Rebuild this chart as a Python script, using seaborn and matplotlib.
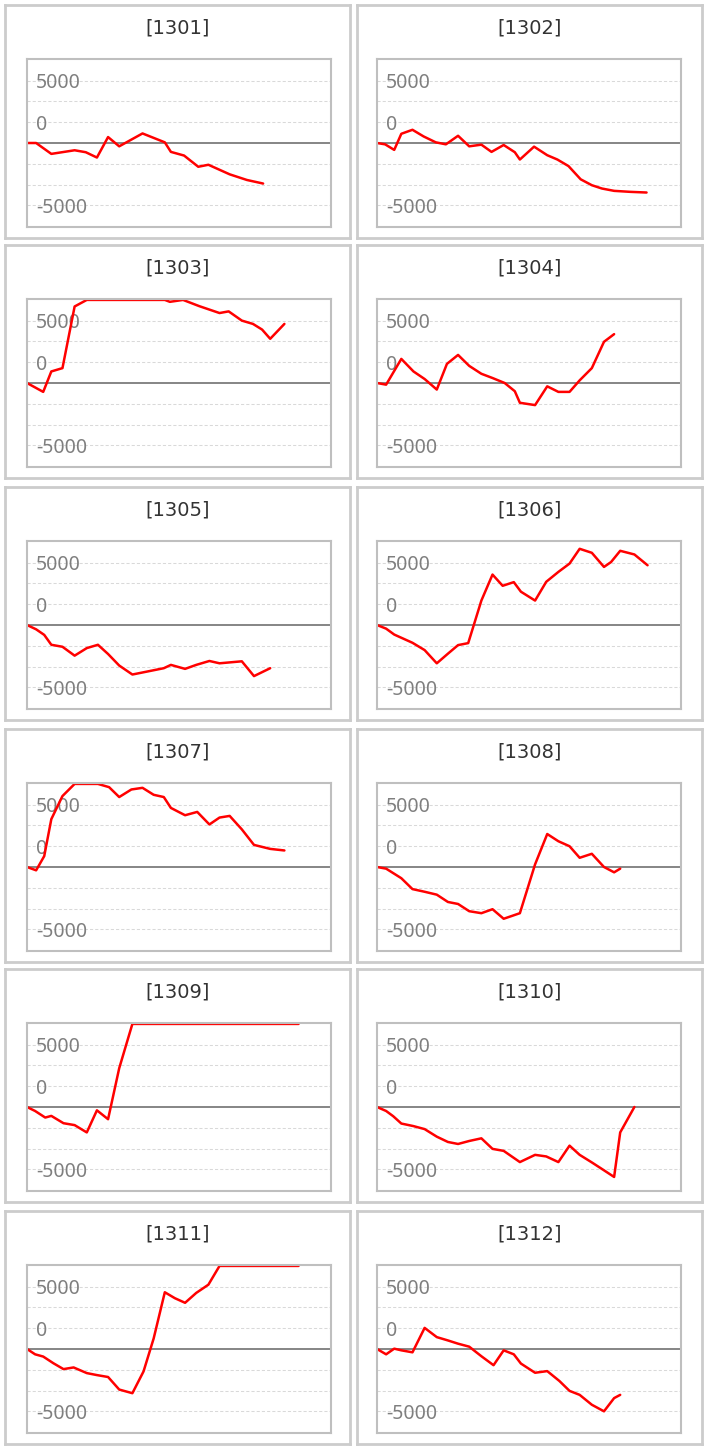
import matplotlib
matplotlib.use("Agg")
import matplotlib.pyplot as plt
import seaborn as sns

# --- data (x = trading-day index, y = cumulative P&L, clipped at +-10000) ---
codes = ["1301", "1302", "1303", "1304", "1305", "1306",
         "1307", "1308", "1309", "1310", "1311", "1312"]

t_1301 = [0, 0.9, 2.4, 4.7, 5.8, 6.9, 8.0, 9.1, 11.4, 13.6, 14.2, 15.5, 16.9, 17.9, 20.0, 21.7, 23.3]
v_1301 = [0, 0, -1310, -875, -1110, -1750, 715, -400, 1150, 80, -1070, -1510, -2860, -2620, -3770, -4450, -4880]

t_1302 = [0, 0.8, 1.7, 2.4, 3.5, 4.6, 5.8, 6.8, 8.0, 9.1, 10.3, 11.3, 12.5, 13.6, 14.1, 15.5,
          16.8, 17.8, 18.9, 20.1, 21.2, 22.2, 23.4, 25.0, 26.6]
v_1302 = [0, -160, -830, 1110, 1590, 790, 80, -160, 870, -400, -200, -1070, -240, -1110, -1990, -440,
          -1470, -1990, -2780, -4370, -5080, -5480, -5760, -5880, -5960]

t_1303 = [0, 1.6, 2.4, 3.5, 4.7, 5.9, 7.0, 8.1, 9.1, 10.2, 11.3, 12.4, 13.6, 14.1, 15.4, 17.0,
          19.0, 19.9, 21.2, 22.3, 23.2, 24.0, 25.4]
v_1303 = [0, -1070, 1390, 1790, 9210, 10000, 10000, 10000, 10000, 10000, 10000, 10000, 10000, 9770, 10000, 9250,
          8420, 8620, 7510, 7110, 6430, 5320, 7110]

t_1304 = [0, 0.9, 2.4, 3.6, 4.7, 5.9, 6.9, 8.0, 9.1, 10.3, 11.4, 12.6, 13.6, 14.1, 15.6, 16.8,
          17.9, 19.0, 20.0, 21.2, 22.4, 23.4]
v_1304 = [0, -200, 2900, 1390, 480, -790, 2300, 3380, 2060, 1110, 600, 0, -990, -2380, -2660, -400,
          -1070, -1070, 320, 1790, 4960, 5880]

t_1305 = [0, 0.9, 1.7, 2.4, 3.5, 4.7, 5.9, 7.0, 8.0, 9.1, 10.4, 13.5, 14.2, 15.6, 16.7, 18.0,
          19.0, 21.2, 22.4, 24.0]
v_1305 = [0, -520, -1190, -2380, -2620, -3690, -2780, -2380, -3490, -4880, -5960, -5200, -4800, -5280, -4800, -4330,
          -4610, -4370, -6150, -5200]

t_1306 = [0, 0.9, 1.7, 3.5, 4.7, 5.9, 7.0, 8.0, 9.0, 10.3, 11.4, 12.4, 13.5, 14.2, 15.6, 16.7,
          17.9, 19.0, 20.0, 21.2, 22.4, 23.1, 24.0, 25.4, 26.7]
v_1306 = [0, -440, -1150, -2140, -3020, -4610, -3450, -2420, -2180, 2940, 6070, 4720, 5160, 4010, 2940, 5200,
          6390, 7390, 9170, 8690, 6990, 7580, 8930, 8490, 7190]

t_1307 = [0, 0.9, 1.7, 2.4, 3.5, 4.7, 5.9, 7.0, 8.1, 9.1, 10.3, 11.4, 12.5, 13.5, 14.2, 15.6,
          16.8, 18.0, 19.0, 20.0, 21.2, 22.4, 24.0, 25.4]
v_1307 = [0, -400, 1310, 5760, 8540, 10000, 10000, 10000, 9610, 8420, 9330, 9530, 8690, 8420, 7110, 6230,
          6630, 5120, 5950, 6150, 4530, 2660, 2180, 1990]

t_1308 = [0, 0.9, 2.4, 3.5, 4.7, 5.9, 7.0, 8.0, 9.1, 10.3, 11.4, 12.5, 14.1, 15.6, 16.8, 17.9,
          19.0, 20.0, 21.2, 22.4, 23.4, 24.0]
v_1308 = [0, -200, -1350, -2660, -2980, -3330, -4210, -4450, -5320, -5560, -5080, -6230, -5560, 320, 3970, 3100,
          2500, 1110, 1590, 0, -640, -200]

t_1309 = [0, 0.8, 1.8, 2.4, 3.6, 4.7, 5.9, 6.9, 8.0, 9.1, 10.4, 12.6, 14.7, 16.8, 19.0, 21.1,
          23.3, 25.5, 26.8]
v_1309 = [0, -480, -1270, -1070, -1950, -2180, -3060, -400, -1470, 4670, 10000, 10000, 10000, 10000, 10000, 10000,
          10000, 10000, 10000]

t_1310 = [0, 0.9, 1.6, 2.4, 3.6, 4.7, 5.9, 7.0, 8.0, 9.1, 10.3, 11.4, 12.5, 14.1, 15.6, 16.7,
          17.9, 19.0, 20.0, 21.2, 22.3, 23.4, 24.0, 25.4]
v_1310 = [0, -480, -1110, -1990, -2300, -2660, -3570, -4210, -4450, -4090, -3770, -5040, -5280, -6630, -5760, -5950,
          -6630, -4650, -5760, -6670, -7540, -8420, -3060, 0]

t_1311 = [0, 0.8, 1.6, 2.6, 3.6, 4.6, 5.9, 6.9, 8.0, 9.1, 10.4, 11.5, 12.5, 13.6, 14.6, 15.6,
          16.7, 17.9, 19.0, 21.0, 23.0, 25.0, 26.8]
v_1311 = [0, -640, -910, -1710, -2420, -2220, -2900, -3140, -3370, -4880, -5320, -2700, 1270, 6830, 6110, 5560,
          6750, 7740, 10000, 10000, 10000, 10000, 10000]

t_1312 = [0, 0.9, 1.7, 2.4, 3.5, 4.7, 5.9, 7.0, 8.0, 9.1, 10.3, 11.5, 12.5, 13.5, 14.2, 15.6,
          16.8, 18.0, 19.0, 20.0, 21.2, 22.4, 23.4, 24.0]
v_1312 = [0, -640, 40, -160, -400, 2540, 1430, 1030, 640, 280, -870, -1950, -160, -640, -1750, -2860,
          -2660, -3850, -5040, -5520, -6710, -7500, -5910, -5520]

series = {
    "1301": (t_1301, v_1301), "1302": (t_1302, v_1302), "1303": (t_1303, v_1303),
    "1304": (t_1304, v_1304), "1305": (t_1305, v_1305), "1306": (t_1306, v_1306),
    "1307": (t_1307, v_1307), "1308": (t_1308, v_1308), "1309": (t_1309, v_1309),
    "1310": (t_1310, v_1310), "1311": (t_1311, v_1311), "1312": (t_1312, v_1312),
}

grid_levels = [-7500, -5000, -2500, 2500, 5000, 7500]
label_levels = [7500, 2500, -7500]
label_texts = ["5000", "0", "-5000"]

# --- layout (pixels) ---
W, H = 708, 1450
sns.set_theme(style="white")
plt.rcParams["font.family"] = ["DejaVu Sans"]

fig = plt.figure(figsize=(W / 100, H / 100), dpi=100)
fig.patch.set_facecolor("white")


def px_box(x, y, w, h):
    return [x / W, 1 - (y + h) / H, w / W, h / H]


frame_lefts = [5, 357]
plot_lefts = [27, 377]
plot_tops = [59, 299, 541, 783, 1023, 1265]

for i, code in enumerate(codes):
    row, col = divmod(i, 2)
    plot_top = plot_tops[row]

    # outer panel frame
    frame = fig.add_axes(px_box(frame_lefts[col], plot_top - 54, 345, 233))
    frame.set_xticks([])
    frame.set_yticks([])
    frame.set_facecolor("white")
    for sp in frame.spines.values():
        sp.set_color("#cccccc")
        sp.set_linewidth(2)
    frame.text(0.5, 1 - 23 / 233, f"[{code}]", transform=frame.transAxes,
               ha="center", va="center", fontsize=14, color="#333333",
               family=["DejaVu Sans"])

    # plot area
    ax = fig.add_axes(px_box(plot_lefts[col], plot_top, 304, 168))
    ax.set_facecolor("white")
    ax.set_xlim(0, 30)
    ax.set_ylim(-10110, 10110)
    ax.set_xticks([])
    ax.set_yticks(label_levels, label_texts)
    ax.set_yticks([g for g in grid_levels if g not in label_levels], minor=True)
    ax.grid(False)
    ax.grid(True, which="both", axis="y", color="#d9d9d9",
            linestyle=(0, (3, 2)), linewidth=0.75)
    ax.tick_params(axis="y", which="both", length=0, pad=-6.5,
                   labelsize=14, labelcolor="#7f7f7f")
    for lab in ax.get_yticklabels():
        lab.set_horizontalalignment("left")
        lab.set_family(["Noto Sans", "DejaVu Sans"])
    for sp in ax.spines.values():
        sp.set_color("#bfbfbf")
        sp.set_linewidth(1.5)

    ax.axhline(0, color="#858585", linewidth=1.4, zorder=1.5)

    t, v = series[code]
    sns.lineplot(x=t, y=v, ax=ax, color="#ff0000", linewidth=1.8,
                 sort=False, estimator=None, zorder=2)
    ax.set_xlabel("")
    ax.set_ylabel("")

fig.savefig("out.png", dpi=100, facecolor="white")
